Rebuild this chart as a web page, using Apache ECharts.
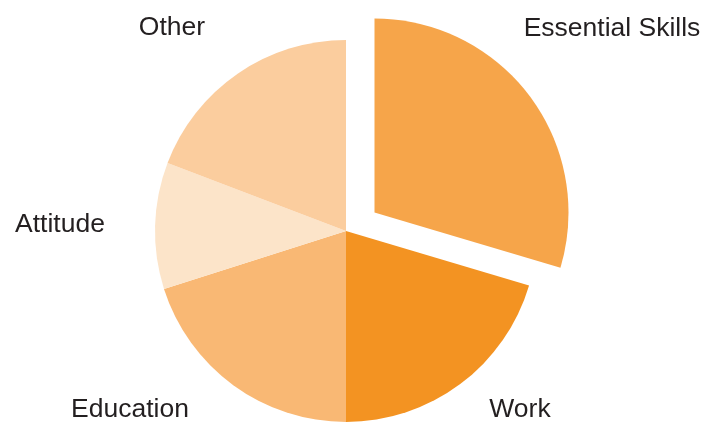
<!DOCTYPE html>
<html>
<head>
<meta charset="utf-8">
<script src="https://cdn.jsdelivr.net/npm/echarts@6/dist/echarts.min.js"></script>
<style>
html,body{margin:0;padding:0;background:#fff;}
#chart{width:702px;height:422px;}
</style>
</head>
<body>
<div id="chart"></div>
<script>
const categories = ['Essential Skills', 'Work', 'Education', 'Attitude', 'Other'];
const values = [29.6, 20.4, 20.1, 10.7, 19.2];
const colors = ['#F6A54A', '#F39322', '#F9B874', '#FCE4C9', '#FBCD9E'];
const explodedIndex = 0;

// label centres (layout only)
const labelPos = [[612, 28.5], [520, 410], [130, 410], [60, 224.5], [172, 27.5]];

const labelStyle = {
  show: true,
  position: 'outside',
  formatter: '{b}',
  color: '#231F20',
  fontFamily: 'Liberation Sans, Arial, sans-serif',
  fontSize: 26.5
};
function layoutFn(p) {
  const pos = labelPos[p.dataIndex];
  return {x: pos[0], y: pos[1], align: 'center', verticalAlign: 'middle'};
}
function makeData(showExploded) {
  return categories.map((c, i) => {
    const isEx = i === explodedIndex;
    const visible = showExploded ? isEx : !isEx;
    return {
      name: c,
      value: values[i],
      itemStyle: {color: visible ? colors[i] : 'rgba(0,0,0,0)'},
      label: {show: visible}
    };
  });
}

const chart = echarts.init(document.getElementById('chart'), null, {renderer: 'canvas'});
chart.setOption({
  animation: false,
  backgroundColor: '#ffffff',
  series: [{
    type: 'pie',
    center: [346, 231],
    radius: 191,
    startAngle: 90,
    clockwise: true,
    avoidLabelOverlap: false,
    label: labelStyle,
    labelLine: {show: false},
    labelLayout: layoutFn,
    emphasis: {disabled: true},
    itemStyle: {borderWidth: 0},
    data: makeData(false)
  }, {
    type: 'pie',
    center: [374.5, 212.5],
    radius: 194,
    startAngle: 90,
    clockwise: true,
    avoidLabelOverlap: false,
    label: labelStyle,
    labelLine: {show: false},
    labelLayout: layoutFn,
    emphasis: {disabled: true},
    itemStyle: {borderWidth: 0},
    data: makeData(true)
  }]
});
</script>
</body>
</html>
